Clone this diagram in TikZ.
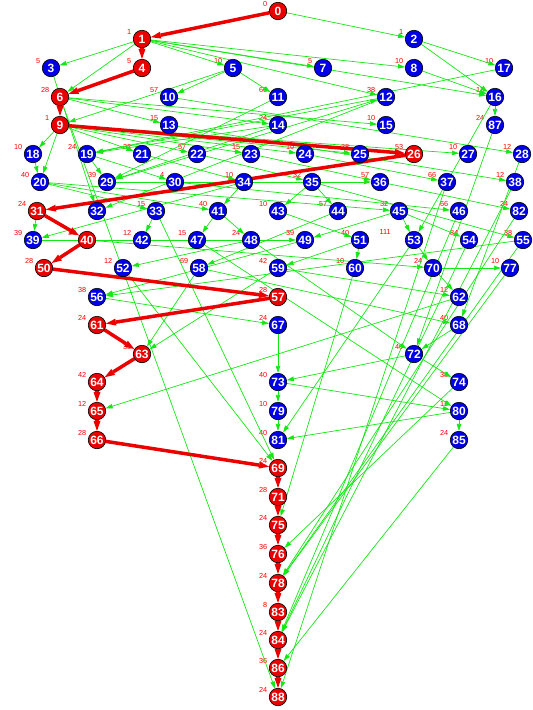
\documentclass[tikz,border=0pt]{standalone}
\usepackage{fontspec}
\setmainfont{Liberation Sans}
\usetikzlibrary{arrows.meta}
\definecolor{nblue}{RGB}{0,0,230}
\definecolor{nred}{RGB}{235,0,0}
\definecolor{egreen}{RGB}{20,232,20}
\definecolor{lred}{RGB}{255,0,0}
\pgfdeclarelayer{labl}
\pgfdeclarelayer{edgel}
\pgfsetlayers{labl,edgel,main}
\begin{document}
\begin{tikzpicture}[x=1pt,y=-1pt,
  nd/.style={circle,draw=black,line width=0.6pt,minimum size=17.5pt,inner sep=0pt,text=white,font=\fontsize{12}{12}\selectfont\bfseries},
  lab/.style={anchor=east,text=lred,inner sep=0pt,font=\fontsize{7.3}{8}\selectfont},
  ge/.style={draw=egreen,line width=0.7pt,-{Triangle[length=7pt,width=4.5pt]}},
  re/.style={draw=nred,line width=3.5pt,-{Triangle[length=10pt,width=7pt,line width=0pt]}}]
\useasboundingbox (0,0) rectangle (533,710);
\foreach \n/\x/\y/\c/\l in {
 0/278/11/nred/0, 1/142/39/nred/1, 2/414/39/nblue/1,
 3/51/68/nblue/5, 4/142/68/nred/5, 5/233/68/nblue/10, 7/323/68/nblue/5, 8/414/68/nblue/10, 17/504/68/nblue/10,
 6/60/97/nred/28, 10/169/97/nblue/57, 11/278/97/nblue/66, 12/386/97/nblue/38, 16/495/97/nblue/13,
 9/60/125/nred/1, 13/169/125/nblue/15, 14/278/125/nblue/24, 15/386/125/nblue/10, 87/495/125/nblue/24,
 18/33/154/nblue/10, 19/87/154/nblue/24, 21/142/154/nblue/32, 22/197/154/nblue/57, 23/251/154/nblue/15,
 24/305/154/nblue/10, 25/360/154/nblue/28, 26/414/154/nred/53, 27/468/154/nblue/10, 28/522/154/nblue/12,
 20/40/182/nblue/40, 29/107/182/nblue/39, 30/175/182/nblue/4, 34/244/182/nblue/10, 35/312/182/nblue/32,
 36/380/182/nblue/57, 37/447/182/nblue/66, 38/515/182/nblue/12,
 31/37/211/nred/24, 32/97/211/nblue/{}, 33/156/211/nblue/15, 41/218/211/nblue/40, 43/278/211/nblue/10,
 44/338/211/nblue/57, 45/399/211/nblue/32, 46/459/211/nblue/66, 82/519/211/nblue/24,
 39/33/240/nblue/39, 40/87/240/nred/33, 42/142/240/nblue/12, 47/197/240/nblue/15, 48/251/240/nblue/24,
 49/305/240/nblue/39, 51/360/240/nblue/40, 53/414/240/nblue/{}, 54/469/240/nblue/84, 55/523/240/nblue/38,
 50/44/268/nred/28, 52/123/268/nblue/12, 58/199/268/nblue/69, 59/278/268/nblue/42, 60/355/268/nblue/10,
 70/433/268/nblue/24, 77/510/268/nblue/10,
 56/97/297/nblue/38, 57/278/297/nred/28, 62/459/297/nblue/12,
 61/97/325/nred/24, 67/278/325/nblue/24, 68/459/325/nblue/40,
 63/142/354/nred/33, 72/414/354/nblue/40,
 64/97/382/nred/42, 73/278/382/nblue/40, 74/459/382/nblue/38,
 65/97/411/nred/12, 79/278/411/nblue/10, 80/459/411/nblue/12,
 66/97/440/nred/28, 81/278/440/nblue/40, 85/459/440/nblue/24,
 69/278/468/nred/24, 71/278/497/nred/28, 75/278/525/nred/24, 76/278/554/nred/36, 78/278/583/nred/24,
 83/278/612/nred/8, 84/278/640/nred/24, 86/278/668/nred/36, 88/278/697/nred/24}
{
  \node[nd,fill=\c] (n\n) at (\x,\y) {\n};
  \begin{pgfonlayer}{labl}
    \node[lab] (l\n) at ({\x-10.5},{\y-7}) {\l};
  \end{pgfonlayer}
}
\begin{pgfonlayer}{labl}
  \node[lab] (l53b) at (391,231.5) {111};
\end{pgfonlayer}
\begin{pgfonlayer}{edgel}
\foreach \a/\b in {
 0/2, 1/3, 1/5, 1/6, 1/7, 1/8, 1/12, 1/16, 2/16, 2/17, 3/32, 5/9, 5/10, 5/11, 8/16, 16/87, 16/53, 17/19, 87/72,
 6/13, 6/14, 6/15, 6/88, 10/28, 13/38, 11/29, 12/19, 12/32, 14/19, 14/29,
 9/18, 9/20, 9/21, 9/22, 9/23, 9/24, 9/25, 9/27, 18/20, 19/29, 19/30,
 20/33, 20/41, 20/45, 21/34, 22/35, 23/36, 24/37, 28/68, 29/12, 29/36, 30/46,
 31/39, 33/42, 33/69, 34/39, 34/41, 35/43, 35/44, 35/55, 36/82, 37/88, 38/84, 39/49, 40/70,
 41/47, 41/48, 43/51, 44/58, 45/49, 45/53, 45/54, 46/84, 47/80, 48/52, 48/72, 49/56,
 51/59, 51/60, 52/69, 53/70, 53/81, 54/84, 55/56, 55/78, 56/67, 58/63, 58/68, 59/62, 59/63,
 60/75, 62/65, 67/73, 68/72, 70/62, 70/77, 72/73, 72/74, 73/79, 73/80, 74/76, 77/78,
 79/81, 80/81, 80/85, 82/78, 85/86}
  \draw[ge] (n\a) -- (n\b);
\foreach \a/\b in {
 0/1, 1/4, 4/6, 6/9, 9/26, 26/31, 31/40, 40/50, 50/57, 57/61, 61/63, 63/64, 64/65, 65/66,
 66/69, 69/71, 71/75, 75/76, 76/78, 78/83, 83/84, 84/86, 86/88}
  \draw[re] (n\a) -- (n\b);
\end{pgfonlayer}
\end{tikzpicture}
\end{document}
